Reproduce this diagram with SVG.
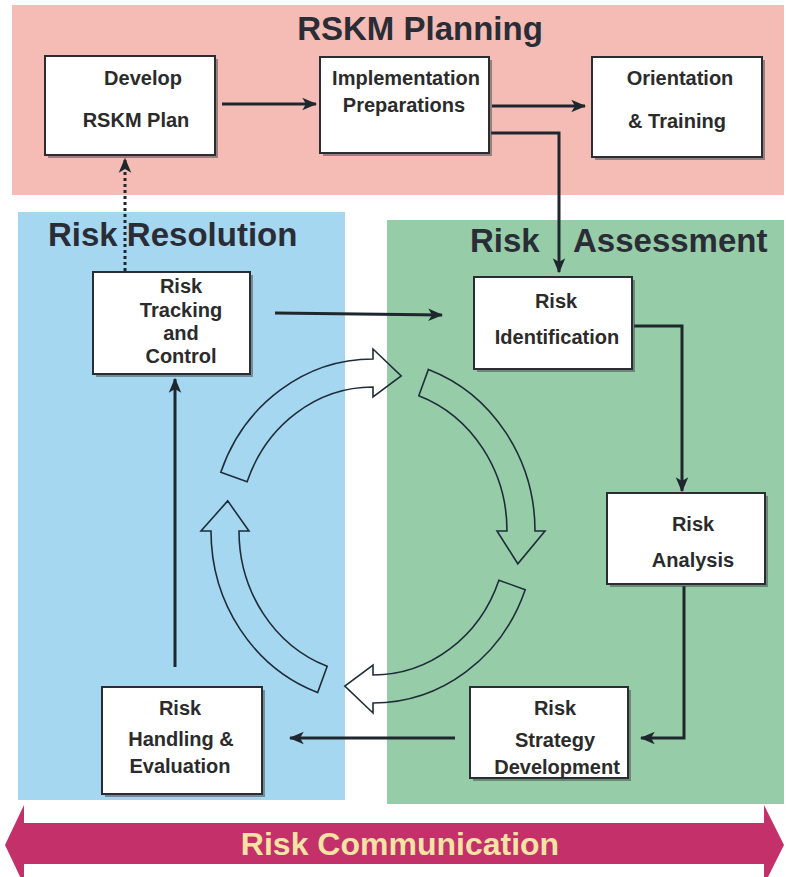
<svg xmlns="http://www.w3.org/2000/svg" width="786" height="877" viewBox="0 0 786 877">
<defs>
<style>
.box{fill:#ffffff;stroke:#2a2e33;stroke-width:2}
.shadow{fill:#4a4d50;opacity:0.55}
.lbl{font-family:"Liberation Sans",Arial,sans-serif;font-weight:bold;font-size:20px;fill:#2b2b2b;text-anchor:middle}
.title{font-family:"Liberation Sans",Arial,sans-serif;font-weight:bold;font-size:33px;fill:#2a2d36}
.conn{fill:none;stroke:#1f272e;stroke-width:3}
.cyc{fill:none;stroke:#1f2d3a;stroke-width:1.6;stroke-linejoin:miter}
</style>
<marker id="ah" viewBox="0 0 12 10" refX="11" refY="5" markerWidth="5" markerHeight="5" markerUnits="strokeWidth" orient="auto">
<path d="M0,0 L12,5 L0,10 L3,5 Z" fill="#1f272e"/>
</marker>
</defs>
<rect width="786" height="877" fill="#ffffff"/>
<g id="panels">
<rect x="12" y="5" width="772" height="190" fill="#f4bcb4"/>
<rect x="18" y="212" width="327" height="588" fill="#a6d7f0"/>
<rect x="387" y="220" width="397" height="584" fill="#96cca8"/>
<text class="title" x="420" y="40" text-anchor="middle">RSKM Planning</text>
<text class="title" x="48" y="246" font-size="32">Risk Resolution</text>
<text class="title"><tspan x="470" y="252">Risk</tspan><tspan x="573" y="252">Assessment</tspan></text>
</g>
<g id="cycle">
<path class="cyc" d="M220.8,472.2 A162,172 0 0 1 373,359 L373,349 L401.2,375.9 L373,397 L373,387 A134,144 0 0 0 247.1,481.8 Z"/>
<path class="cyc" d="M428.4,369.4 A162,172 0 0 1 535,531 L545,531 L517.8,563.8 L497,531 L507,531 A134,144 0 0 0 418.8,395.7 Z"/>
<path class="cyc" d="M525.2,589.8 A162,172 0 0 1 373,703 L373,713 L344.8,686.1 L373,665 L373,675 A134,144 0 0 0 498.9,580.2 Z"/>
<path class="cyc" d="M317.6,692.6 A162,172 0 0 1 211,531 L201,531 L227.7,500.9 L249,531 L239,531 A134,144 0 0 0 327.2,666.3 Z"/>
</g>
<g id="connectors">
<line class="conn" x1="222" y1="104" x2="316" y2="104" marker-end="url(#ah)"/>
<line class="conn" x1="492" y1="106" x2="585" y2="106" marker-end="url(#ah)"/>
<polyline class="conn" points="491,133 559,133 559,272" marker-end="url(#ah)"/>
<line class="conn" x1="125" y1="271" x2="125" y2="159" stroke-dasharray="3,3" marker-end="url(#ah)"/>
<line class="conn" x1="275" y1="313" x2="442" y2="315" marker-end="url(#ah)"/>
<polyline class="conn" points="634,326 682,326 682,491" marker-end="url(#ah)"/>
<polyline class="conn" points="684,586 684,738 641,738" marker-end="url(#ah)"/>
<line class="conn" x1="455" y1="738" x2="290" y2="738" marker-end="url(#ah)"/>
<line class="conn" x1="175" y1="667" x2="175" y2="379" marker-end="url(#ah)"/>
</g>
<g id="develop">
<rect class="shadow" x="48" y="59" width="170" height="99"/>
<rect class="box" x="45" y="56" width="170" height="99"/>
<text class="lbl" x="143" y="85">Develop</text>
<text class="lbl" x="136" y="127">RSKM Plan</text>
</g>
<g id="implementation">
<rect class="shadow" x="323" y="60" width="169" height="96"/>
<rect class="box" x="320" y="57" width="169" height="96"/>
<text class="lbl" x="406" y="85">Implementation</text>
<text class="lbl" x="404" y="112">Preparations</text>
</g>
<g id="orientation">
<rect class="shadow" x="595" y="60" width="170" height="100"/>
<rect class="box" x="592" y="57" width="170" height="100"/>
<text class="lbl" x="680" y="85">Orientation</text>
<text class="lbl" x="677" y="128">&amp; Training</text>
</g>
<g id="tracking">
<rect class="shadow" x="96" y="275" width="157" height="102"/>
<rect class="box" x="93" y="272" width="157" height="102"/>
<text class="lbl" x="181" y="293">Risk</text>
<text class="lbl" x="181" y="317">Tracking</text>
<text class="lbl" x="181" y="340">and</text>
<text class="lbl" x="181" y="363">Control</text>
</g>
<g id="identification">
<rect class="shadow" x="477" y="280" width="158" height="92"/>
<rect class="box" x="474" y="277" width="158" height="92"/>
<text class="lbl" x="556" y="308">Risk</text>
<text class="lbl" x="557" y="344">Identification</text>
</g>
<g id="analysis">
<rect class="shadow" x="610" y="496" width="158" height="91"/>
<rect class="box" x="607" y="493" width="158" height="91"/>
<text class="lbl" x="693" y="531">Risk</text>
<text class="lbl" x="693" y="567">Analysis</text>
</g>
<g id="strategy">
<rect class="shadow" x="473" y="690" width="158" height="91"/>
<rect class="box" x="470" y="687" width="158" height="91"/>
<text class="lbl" x="555" y="715">Risk</text>
<text class="lbl" x="555" y="747">Strategy</text>
<text class="lbl" x="557" y="774">Development</text>
</g>
<g id="handling">
<rect class="shadow" x="105" y="690" width="160" height="107"/>
<rect class="box" x="102" y="687" width="160" height="107"/>
<text class="lbl" x="180" y="715">Risk</text>
<text class="lbl" x="181" y="746">Handling &amp;</text>
<text class="lbl" x="180" y="773">Evaluation</text>
</g>
<g id="communication">
<polygon points="5,845 24,805 24,823 764,823 764,805 784,845 764,885 764,864 24,864 24,885" fill="#c3306a"/>
<text x="400" y="855" text-anchor="middle" font-family="'Liberation Sans',Arial,sans-serif" font-weight="bold" font-size="32" fill="#f5e3a3">Risk Communication</text>
</g>
</svg>
